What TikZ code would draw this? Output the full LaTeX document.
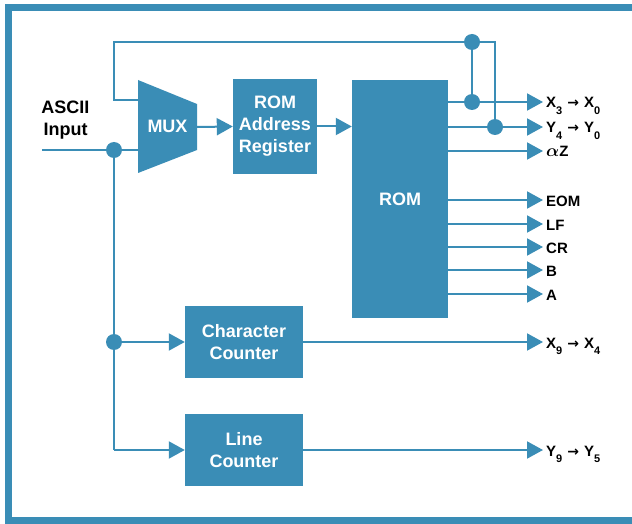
\documentclass[tikz,border=0pt]{standalone}
\usepackage{fontspec}
\setmainfont{Liberation Sans}
\newfontfamily\djv{DejaVu Sans}
\usetikzlibrary{arrows.meta}
\definecolor{hpblue}{RGB}{58,141,182}
\newcommand\lsub[1]{\raisebox{-6.5pt}{\fontsize{11}{11}\selectfont #1}}
\newcommand\larr{\hspace{5pt}{\djv\fontsize{14}{14}\selectfont →}\hspace{5pt}}
\begin{document}
\begin{tikzpicture}[x=1pt,y=-1pt,
  blk/.style={fill=hpblue,draw=none,text=white,font=\bfseries\fontsize{18}{22}\selectfont,align=center,inner sep=0pt},
  dotn/.style={circle,fill=hpblue,minimum size=16pt,inner sep=0pt},
  wire/.style={draw=hpblue,line width=2pt},
  arr/.style={wire,-{Triangle[length=16pt,width=17pt]}},
  lbl/.style={font=\bfseries\fontsize{15}{16}\selectfont,anchor=base west,inner sep=0pt},
  ttl/.style={font=\bfseries\fontsize{18}{22}\selectfont,align=center,inner sep=0pt}]
\useasboundingbox (0,0) rectangle (632,524);
\clip (0,0) rectangle (632,524);
\fill[white] (0,0) rectangle (632,524);
\draw[hpblue,line width=7pt] (650,7.5) -- (8,7.5) -- (8,520.5) -- (650,520.5);

% MUX
\fill[hpblue] (138,80) -- (197,104) -- (197,150) -- (138,173) -- cycle;
\node[blk,minimum width=59pt,minimum height=93pt,fill=none] (mux) at (167.5,126.5) {MUX};
\coordinate (muxin) at (138,150);
\coordinate (muxfb) at (138,100);
\coordinate (muxout) at (197,127);

% blocks
\node[blk,minimum width=84pt,minimum height=95pt] (reg) at (275,126.5) {ROM\\Address\\Register};
\node[blk,minimum width=96pt,minimum height=238pt] (rom) at (400,199) {ROM};
\node[blk,minimum width=118pt,minimum height=72pt] (cc) at (244,342) {Character\\Counter};
\node[blk,minimum width=118pt,minimum height=72pt] (lc) at (244,450) {Line\\Counter};

% input label
\node[ttl] (ascii) at (65.5,120.5) {ASCII\\Input};

% dots
\node[dotn] (d1) at (114,150) {};
\node[dotn] (d2) at (114,342) {};
\node[dotn] (t1) at (472,42) {};
\node[dotn] (t2) at (472,102) {};
\node[dotn] (t3) at (495,127) {};

\coordinate (in) at (42,150);
\coordinate (lcturn) at (114,450);
\coordinate (fb1) at (114,100);
\coordinate (fb2) at (114,42);
\coordinate (fb3) at (495,42);

% input wiring
\draw[wire] (in) -- (d1.center) -- (muxin);
\draw[wire] (d1.center) -- (d2.center) -- (lcturn);
\draw[arr] (lcturn) -- (lc.west);
\draw[arr] (d2.center) -- (cc.west);

% feedback
\draw[wire] (muxfb) -- (fb1) -- (fb2) -- (t1.center) -- (fb3) -- (t3.center);
\draw[wire] (t1.center) -- (t2.center);

% main path
\draw[arr] (muxout) -- (reg.west);
\draw[arr] (reg.east) -- (rom.west |- reg.east);

% ROM outputs
\foreach \y/\n/\t in {102/o1/{X\lsub{3}\larr X\lsub{0}},
                      127/o2/{Y\lsub{4}\larr Y\lsub{0}},
                      151/o3/{{\fontsize{19}{19}\selectfont\boldmath$\alpha$}Z},
                      200/o4/{EOM},
                      224/o5/{LF},
                      247/o6/{CR},
                      270/o7/{B},
                      294/o8/{A}}{
  \coordinate (\n) at (543,\y);
  \draw[arr] (rom.east |- \n) -- (\n);
  \node[lbl] (l\n) at (546,\y+6) {\t};
}
\coordinate (o9) at (543,342);
\coordinate (o10) at (543,450);
\draw[arr] (cc.east) -- (o9);
\draw[arr] (lc.east |- o10) -- (o10);
\node[lbl] (lo9) at (546,348) {X\lsub{9}\larr X\lsub{4}};
\node[lbl] (lo10) at (546,456) {Y\lsub{9}\larr Y\lsub{5}};
\end{tikzpicture}
\end{document}
